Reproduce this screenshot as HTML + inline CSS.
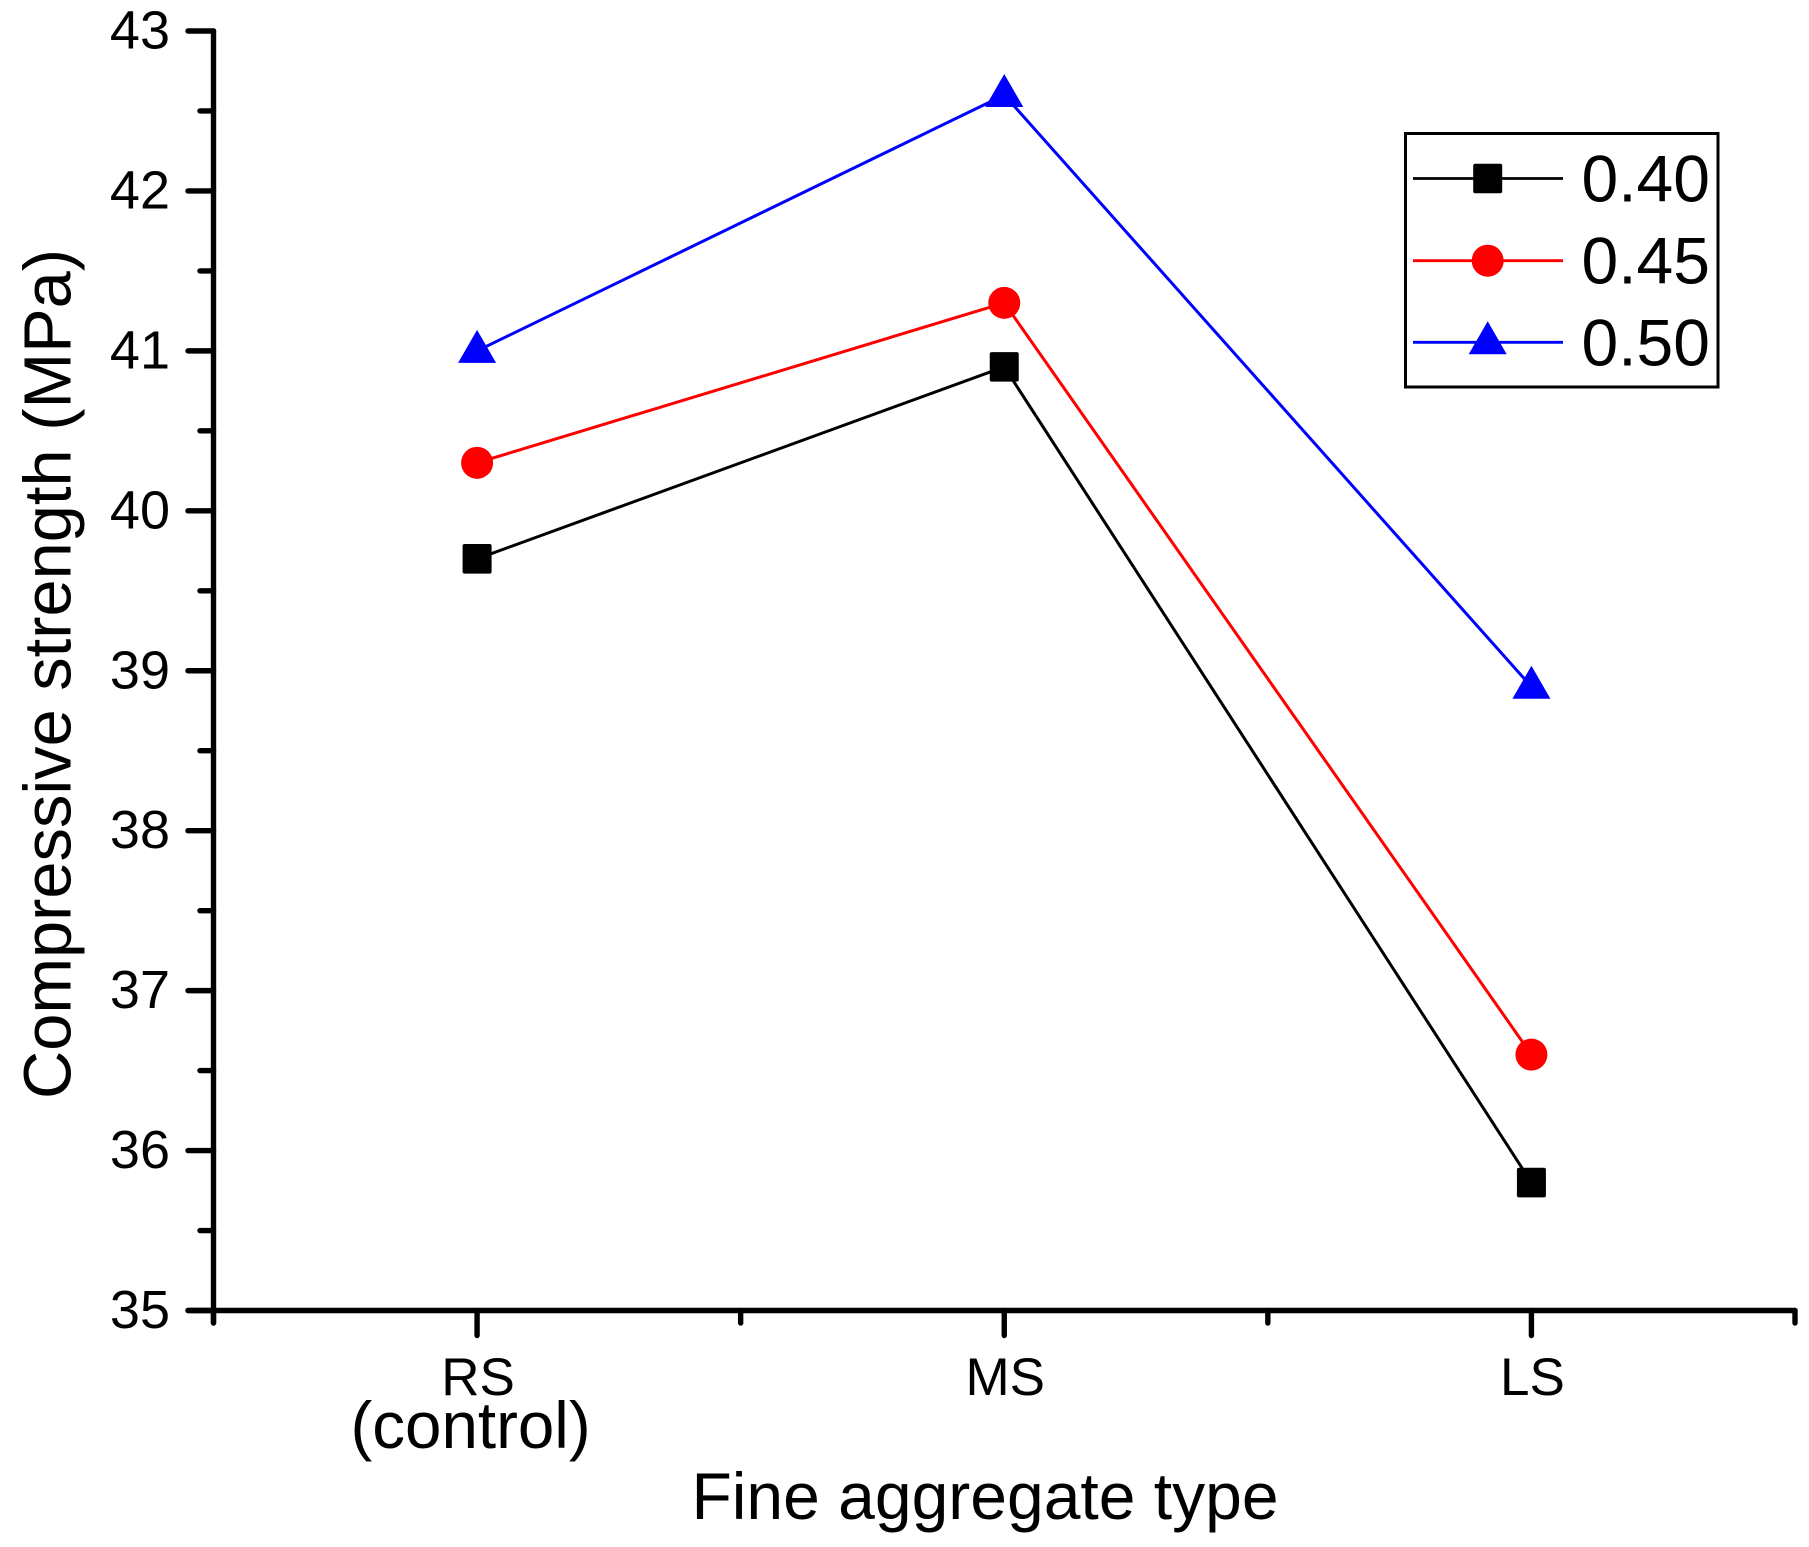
<!DOCTYPE html>
<html lang="en">
<head>
<meta charset="utf-8">
<title>Compressive strength by fine aggregate type</title>
<style>
html,body{margin:0;padding:0;background:#fff;}
svg{display:block;font-family:"Liberation Sans",Arial,sans-serif;}
</style>
</head>
<body>
<svg id="chart" xmlns="http://www.w3.org/2000/svg" width="1809" height="1547" viewBox="0 0 1809 1547">
  <rect x="0" y="0" width="1809" height="1547" fill="#fff"/>
  <g id="axes"></g>
  <g id="series"></g>
  <text x="985" y="1519" font-size="66" text-anchor="middle" fill="#000">Fine aggregate type</text>
  <text transform="translate(70.5 674) rotate(-90)" font-size="66.8" text-anchor="middle" fill="#000">Compressive strength (MPa)</text>
  <g id="legend">
    <rect x="1405.5" y="133.5" width="312.5" height="253.5" fill="#fff" stroke="#000" stroke-width="3"/>
  </g>
</svg>
<script>
var categories = ["RS", "MS", "LS"];
var categorySublabels = ["(control)", "", ""];
var yTickLabels = ["35", "36", "37", "38", "39", "40", "41", "42", "43"];
var seriesNames = ["0.40", "0.45", "0.50"];
var seriesColors = ["#000000", "#ff0000", "#0000ff"];
var seriesShapes = ["square", "circle", "triangle"];
var values040 = [39.7, 40.9, 35.8];
var values045 = [40.3, 41.3, 36.6];
var values050 = [41.0, 42.6, 38.9];

var NS = "http://www.w3.org/2000/svg";
var seriesValues = [values040, values045, values050];
var yMin = 35, yMax = 43;
var plotTop = 31, plotBottom = 1310.5, plotLeft = 213.5, plotRight = 1795;

function yScale(v) { return plotBottom - (v - yMin) / (yMax - yMin) * (plotBottom - plotTop); }
function xScale(i) { return plotLeft + (i + 0.5) / categories.length * (plotRight - plotLeft); }

function make(tag, attrs, parent, text) {
  var el = document.createElementNS(NS, tag);
  for (var k in attrs) el.setAttribute(k, attrs[k]);
  if (text !== undefined) el.textContent = text;
  parent.appendChild(el);
  return el;
}

function drawMarker(shape, cx, cy, color, parent) {
  if (shape === "square") {
    return make("rect", { x: cx - 14.5, y: cy - 14.8, width: 29, height: 29.6, rx: 2, fill: color }, parent);
  }
  if (shape === "circle") {
    return make("circle", { cx: cx, cy: cy, r: 16, fill: color }, parent);
  }
  return make("path", { d: "M" + cx + " " + (cy - 21) + "L" + (cx + 19) + " " + (cy + 12) + "L" + (cx - 19) + " " + (cy + 12) + "Z", fill: color }, parent);
}

var axes = document.getElementById("axes");
var tickStyle = { stroke: "#000", "stroke-width": 5.4, "stroke-linecap": "round", fill: "none" };
function tickLine(x1, y1, x2, y2) {
  var attrs = { x1: x1, y1: y1, x2: x2, y2: y2 };
  for (var k in tickStyle) attrs[k] = tickStyle[k];
  return make("line", attrs, axes);
}

// Y axis: major ticks and labels, minor ticks halfway between
var yAxisLine = tickLine(plotLeft, plotTop, plotLeft, 1323);


yTickLabels.forEach(function (label, i) {
  var value = parseFloat(label);
  var major = tickLine(188, yScale(value), plotLeft, yScale(value));
  
  
  var txt = make("text", { x: 170, y: yScale(value) + 17.5, "font-size": 54, "text-anchor": "end", fill: "#000" }, axes, label);
  
  
  if (i < yTickLabels.length - 1) {
    var minor = tickLine(200, yScale(value + 0.5), plotLeft, yScale(value + 0.5));
    
    
  }
});

// X axis: major ticks at categories, minor ticks between them
var xAxisLine = tickLine(188, plotBottom, plotRight, plotBottom);


categories.forEach(function (cat, i) {
  var x = xScale(i);
  var major = tickLine(x, plotBottom, x, 1335.5);
  
  
  var txt = make("text", { x: x + 1, y: 1395, "font-size": 53, "text-anchor": "middle", fill: "#000" }, axes, cat);
  
  
  if (categorySublabels[i]) {
    var sub = make("text", { x: x - 6.5, y: 1448, "font-size": 65.5, "text-anchor": "middle", fill: "#000" }, axes, categorySublabels[i]);
    
    
  }
  var minorX = xScale(i + 0.5);
  var minor = tickLine(minorX, plotBottom, minorX, 1323);
  
  
});
var firstMinor = tickLine(xScale(-0.5), plotBottom, xScale(-0.5), 1323);



// Series
var seriesGroup = document.getElementById("series");
seriesValues.forEach(function (vals, s) {
  var pts = vals.map(function (v, i) { return xScale(i) + "," + yScale(v); }).join(" ");
  var line = make("polyline", { points: pts, fill: "none", stroke: seriesColors[s], "stroke-width": 3 }, seriesGroup);
  
  
  vals.forEach(function (v, i) {
    var m = drawMarker(seriesShapes[s], xScale(i), yScale(v), seriesColors[s], seriesGroup);
    
    
  });
});

// Legend
var legend = document.getElementById("legend");
var legendRowY = [178.5, 260.7, 342.3];
seriesNames.forEach(function (name, s) {
  var y = legendRowY[s];
  var l = make("line", { x1: 1413, y1: y, x2: 1563, y2: y, stroke: seriesColors[s], "stroke-width": 2.8 }, legend);
  
  
  var m = drawMarker(seriesShapes[s], 1487.7, y, seriesColors[s], legend);
  
  
  var t = make("text", { x: 1581.5, y: y + 23, "font-size": 66, fill: "#000" }, legend, name);
  
  
});
</script>
</body>
</html>
